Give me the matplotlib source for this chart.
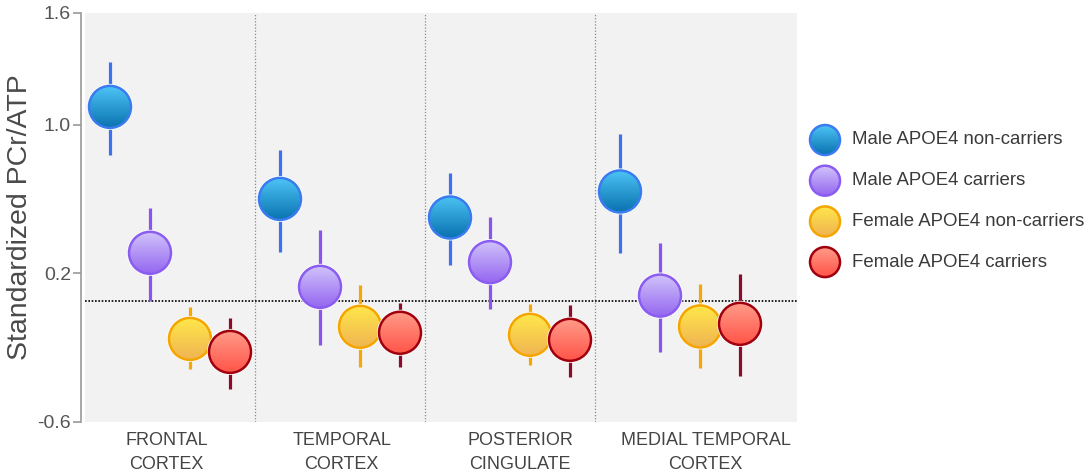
import numpy as np
import matplotlib
matplotlib.use('Agg')
import matplotlib.pyplot as plt
from matplotlib.patches import Ellipse
from matplotlib.colors import to_rgb

plt.rcParams['font.family'] = ['Liberation Sans', 'DejaVu Sans']

regions = ['FRONTAL\nCORTEX', 'TEMPORAL\nCORTEX', 'POSTERIOR\nCINGULATE', 'MEDIAL TEMPORAL\nCORTEX']
series = ['Male APOE4 non-carriers', 'Male APOE4 carriers',
          'Female APOE4 non-carriers', 'Female APOE4 carriers']

male_nc = [1.095, 0.60, 0.50, 0.64]
male_nc_lo = [0.837, 0.315, 0.245, 0.308]
male_nc_hi = [1.337, 0.863, 0.741, 0.949]

male_c = [0.31, 0.127, 0.26, 0.08]
male_c_lo = [0.052, -0.185, 0.007, -0.221]
male_c_hi = [0.552, 0.433, 0.505, 0.365]

fem_nc = [-0.153, -0.088, -0.131, -0.086]
fem_nc_lo = [-0.314, -0.303, -0.292, -0.307]
fem_nc_hi = [0.019, 0.138, 0.036, 0.141]

fem_c = [-0.223, -0.12, -0.158, -0.072]
fem_c_lo = [-0.42, -0.303, -0.359, -0.352]
fem_c_hi = [-0.04, 0.04, 0.03, 0.197]

ref_line = 0.05
yticks = [-0.6, 0.2, 1.0, 1.6]

# (errorbar, edge, gradient top, gradient bottom)
styles = [('#3b72f0', '#3a7bf0', '#4cc4f5', '#0a72b0'),
          ('#8a55ee', '#8a5cf0', '#d0c2fa', '#9466f0'),
          ('#f5a800', '#f5a500', '#ffe84a', '#f0b452'),
          ('#8b0a2e', '#a0000e', '#ff9a88', '#ff5448')]

means = [male_nc, male_c, fem_nc, fem_c]
lows = [male_nc_lo, male_c_lo, fem_nc_lo, fem_c_lo]
highs = [male_nc_hi, male_c_hi, fem_nc_hi, fem_c_hi]

W, H = 1092, 475
fig = plt.figure(figsize=(W / 100, H / 100), dpi=100)
ax_l, ax_r, ax_t, ax_b = 85, 797, 13, 422
ax = fig.add_axes([ax_l / W, (H - ax_b) / H, (ax_r - ax_l) / W, (ax_b - ax_t) / H])
xmax = (ax_r - ax_l) / 170
ax.set_xlim(0, xmax)
ax.set_ylim(-0.6, 1.6)
ax.set_facecolor('#f2f2f2')

px_x = (ax_r - ax_l) / xmax
px_y = (ax_b - ax_t) / 2.2


def grad_circle(axis, x, y, r, sx, sy, edge, top, bot, z):
    rx, ry = r / sx, r / sy
    halo = Ellipse((x, y), 2 * (r + 2) / sx, 2 * (r + 2) / sy, facecolor='white',
                   edgecolor='none', zorder=z)
    axis.add_patch(halo)
    t = np.linspace(0, 1, 64)[:, None, None]
    img = (1 - t) * np.array(to_rgb(top)) + t * np.array(to_rgb(bot))
    im = axis.imshow(img, extent=[x - rx, x + rx, y - ry, y + ry], origin='upper',
                     aspect='auto', zorder=z + 0.1, interpolation='bilinear')
    clip = Ellipse((x, y), 2 * rx, 2 * ry, facecolor='none', edgecolor='none',
                   transform=axis.transData)
    axis.add_patch(clip)
    im.set_clip_path(clip)
    ring = Ellipse((x, y), 2 * rx, 2 * ry, facecolor='none', edgecolor=edge,
                   linewidth=1.8, zorder=z + 0.2)
    axis.add_patch(ring)


offsets = np.array([-60, -20, 20, 60]) / px_x
centers = np.arange(len(regions)) + 0.5
for k in range(4):
    xs = centers + offsets[k]
    m = np.array(means[k])
    err = [m - np.array(lows[k]), np.array(highs[k]) - m]
    ax.errorbar(xs, m, yerr=err, fmt='none', ecolor=styles[k][0], elinewidth=2.3,
                capsize=0, zorder=3 + k)
    for xi, yi in zip(xs, m):
        grad_circle(ax, xi, yi, 21, px_x, px_y, styles[k][1], styles[k][2], styles[k][3], 3.5 + k)

for d in [1, 2, 3]:
    ax.axvline(d, color='#8a8a8a', linestyle=(0, (1, 1.5)), linewidth=0.9, zorder=1)
ax.axhline(ref_line, color='black', linestyle=(0, (1, 1)), linewidth=1.2, zorder=2)

ax.set_yticks(yticks)
ax.set_yticklabels(['-0.6', '0.2', '1.0', '1.6'])
ax.set_xticks([0.48, 1.51, 2.56, 3.65])
ax.set_xticklabels(regions, fontsize=13, color='#444444', linespacing=1.55)
ax.tick_params(axis='x', length=0, pad=7)
ax.tick_params(axis='y', length=6, width=1.2, color='#999999', labelsize=14,
               labelcolor='#555555', pad=1)
for s in ['top', 'right', 'bottom']:
    ax.spines[s].set_visible(False)
ax.spines['left'].set_position(('outward', 3))
ax.spines['left'].set_color('#999999')
ax.spines['left'].set_linewidth(1.2)
ax.set_ylabel('Standardized PCr/ATP', fontsize=20.5, color='#4a4a4a', labelpad=3)

# legend drawn in pixel units so the circles stay round
lx0, lx1, ly0, ly1 = 800, 1092, 110, 290
lax = fig.add_axes([lx0 / W, (H - ly1) / H, (lx1 - lx0) / W, (ly1 - ly0) / H])
lax.set_xlim(lx0, lx1)
lax.set_ylim(ly1, ly0)
lax.axis('off')
for k, name in enumerate(series):
    yy = 140 + k * 40.7
    grad_circle(lax, 825, yy, 15, 1, -1, styles[k][1], styles[k][2], styles[k][3], 3)
    lax.text(852, yy, name, fontsize=13.4, color='#3a3a3a', va='center', ha='left')

fig.savefig('out.png', dpi=100)
